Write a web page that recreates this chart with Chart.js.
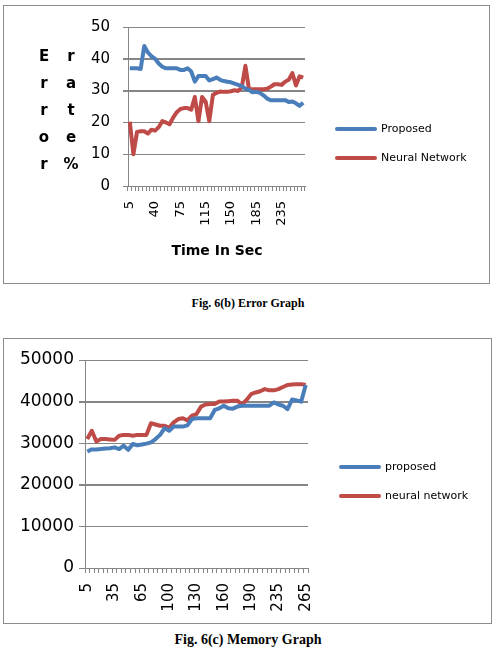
<!DOCTYPE html>
<html>
<head>
<meta charset="utf-8">
<script src="https://cdn.jsdelivr.net/npm/chart.js@4.4.0/dist/chart.umd.min.js"></script>
<style>
  body { margin: 0; background: #fff; width: 496px; height: 652px; position: relative; overflow: hidden; }
  .box { position: absolute; border: 1px solid #8c8c8c; box-sizing: border-box; }
  canvas { position: absolute; left: 0; }
  .cap { position: absolute; left: 0; width: 496px; text-align: center; font: bold 12px "Liberation Serif"; color: #000; }
</style>
</head>
<body>
<div class="box" style="left:3px; top:5px; width:487px; height:279px;"></div>
<canvas id="errChart" width="496" height="290" style="top:0"></canvas>
<div class="cap" style="top:296px;">Fig. 6(b) Error Graph</div>

<div class="box" style="left:3px; top:338px; width:489px; height:286px;"></div>
<canvas id="memChart" width="496" height="300" style="top:330px"></canvas>
<div class="cap" style="top:632px; font-size:14px;">Fig. 6(c) Memory Graph</div>

<script>
// ---- Fig. 6(b) error graph data
const errorTime = [5, 10, 15, 20, 25, 30, 35, 40, 45, 50, 55, 60, 65, 70, 75,
  80, 85, 90, 95, 100, 110, 115, 120, 125, 130, 135, 140, 145, 150,
  155, 160, 165, 170, 175, 180, 185, 190, 200, 205, 215, 220, 230, 235,
  240, 245, 250, 255, 260, 265];
const errorTicks = ['5', '40', '75', '115', '150', '185', '235'];
const errorYTicks = [0, 10, 20, 30, 40, 50];
const errorProposed = [37, 37, 37, 36.8, 44, 42, 40.8, 40, 38.5, 37.5,
  37, 37, 37, 37, 36.5, 36.5, 37, 36, 32.8, 34.6,
  34.6, 34.6, 33.2, 33.6, 34.1, 33.4, 33, 32.8, 32.6, 32.2,
  31.8, 31.4, 30.6, 30.2, 29.5, 29.6, 29.3, 28.5, 27.5, 27,
  27, 27, 27, 27, 26.4, 26.6, 26, 25.2, 26.2];
const errorNeural = [20.2, 10, 17, 17.2, 17.2, 16.5, 17.7, 17.4, 18.5, 20.4,
  20, 19.4, 21.5, 23.2, 24.2, 24.5, 24.5, 24, 28, 20.4,
  28, 26.5, 20.4, 28.6, 29.3, 29.7, 29.6, 29.6, 29.8, 30.1,
  29.9, 31, 37.8, 30.4, 30.4, 30.4, 30.4, 30.4, 30.6, 31.2,
  32, 32, 31.8, 32.8, 33.4, 35.5, 31.6, 34.5, 34.1];

// ---- Fig. 6(c) memory graph data
const memTime = [5, 10, 15, 20, 25, 30, 35, 40, 45, 50, 55, 60, 65,
  70, 75, 80, 85, 90, 100, 105, 110, 115, 120, 125, 130,
  135, 140, 145, 150, 155, 160, 165, 170, 175, 180, 185, 190,
  195, 205, 210, 220, 225, 235, 240, 245, 250, 255, 260, 265];
const memTicks = ['5', '35', '65', '100', '130', '160', '190', '235', '265'];
const memYTicks = [0, 10000, 20000, 30000, 40000, 50000];
const memProposed = [28000, 28500, 28500, 28600, 28700, 28800, 29000, 28600, 29400, 28400,
  29800, 29500, 29700, 29900, 30200, 31000, 32000, 33600, 33000, 34000,
  34000, 34000, 34300, 35800, 36000, 36000, 36000, 36000, 38000, 38400,
  39000, 38400, 38300, 38800, 39000, 39000, 39000, 39000, 39000, 39000,
  39000, 39800, 39300, 39000, 38200, 40500, 40300, 40000, 44000];
const memNeural = [31000, 33000, 30400, 31000, 31000, 30900, 30800, 31800, 32000, 32000,
  31800, 32000, 32000, 32000, 34800, 34500, 34200, 34200, 33700, 35000,
  35800, 36000, 35500, 36600, 37000, 38800, 39300, 39400, 39400, 40000,
  40000, 40100, 40200, 40200, 39300, 40400, 41800, 42200, 42500, 43000,
  42700, 42700, 43000, 43500, 44000, 44100, 44200, 44200, 44000];

const BLUE = '#4a7ebb';
const RED = '#be4b48';
const GRID = '#868686';
const FONT = '"DejaVu Sans"';

// horizontal grid lines from the y scale ticks
function strokeGrid(chart, tickLen, mode) {
  const ctx = chart.ctx, a = chart.chartArea, ys = chart.scales.y;
  ctx.save();
  ctx.globalCompositeOperation = mode;
  ctx.globalAlpha = 1;
  ctx.setLineDash([]);
  ctx.strokeStyle = GRID;
  ctx.lineWidth = 1;
  ys.ticks.forEach(t => {
    const py = Math.round(ys.getPixelForValue(t.value)) + 0.5;
    ctx.beginPath();
    ctx.moveTo(a.left - tickLen, py);
    ctx.lineTo(a.right, py);
    ctx.stroke();
  });
  ctx.restore();
}

// one plugin per chart: grid, legend, free text
function makeExtras(cfg) {
  return {
    id: 'extras',
    afterDraw(chart) {
      const ctx = chart.ctx, a = chart.chartArea, ys = chart.scales.y;
      strokeGrid(chart, cfg.yTickLen, 'destination-over');
      // if the grid did not show up (pixel still empty), stroke it again on top
      const probeY = Math.round(ys.getPixelForValue(ys.ticks[1].value));
      const probe = ctx.getImageData(Math.round(a.right) - 3, probeY, 1, 1).data;
      if (probe[3] < 100) strokeGrid(chart, cfg.yTickLen, 'source-over');

      ctx.save();
      chart.data.datasets.forEach((ds, i) => {
        const y = cfg.legendY[i];
        ctx.strokeStyle = ds.borderColor;
        ctx.lineWidth = 4;
        ctx.lineCap = 'round';
        ctx.beginPath();
        ctx.moveTo(cfg.legendX + 2, y);
        ctx.lineTo(cfg.legendX + 40, y);
        ctx.stroke();
        ctx.fillStyle = '#000';
        ctx.font = '11px ' + FONT;
        ctx.textAlign = 'left';
        ctx.textBaseline = 'middle';
        ctx.fillText(ds.label, cfg.legendX + 46, y);
      });
      cfg.texts.forEach(t => {
        ctx.fillStyle = '#000';
        ctx.font = t.font;
        ctx.textAlign = 'center';
        ctx.textBaseline = 'alphabetic';
        ctx.fillText(t.text, t.x, t.y);
      });
      ctx.restore();
    }
  };
}

function makeChart(id, cfg) {
  const yt = cfg.yTicks;
  new Chart(document.getElementById(id), {
    type: 'line',
    data: {
      labels: cfg.labels,
      datasets: [
        { label: cfg.names[0], data: cfg.series[0], borderColor: BLUE },
        { label: cfg.names[1], data: cfg.series[1], borderColor: RED }
      ]
    },
    options: {
      responsive: false,
      animation: false,
      devicePixelRatio: 1,
      layout: { padding: cfg.padding },
      elements: {
        line: { borderWidth: 4, tension: 0, borderJoinStyle: 'round' },
        point: { radius: 0 }
      },
      plugins: {
        legend: { display: false },
        tooltip: { enabled: false }
      },
      scales: {
        x: {
          offset: true,
          afterFit: s => { s.height = 50; },
          grid: { offset: true, drawOnChartArea: false, color: GRID, tickLength: 5 },
          border: { color: GRID },
          ticks: {
            autoSkip: false, maxRotation: 90, minRotation: 90, padding: 10,
            color: '#000', font: { family: FONT, size: cfg.xFont },
            callback: (v, i) => cfg.tickLabels.includes(String(cfg.labels[i])) ? cfg.labels[i] : ''
          }
        },
        y: {
          min: yt[0], max: yt[yt.length - 1],
          afterFit: s => { s.width = cfg.yWidth; },
          grid: { color: GRID, tickLength: cfg.yTickLen },
          border: { color: GRID },
          ticks: {
            stepSize: yt[1] - yt[0], padding: cfg.yPad,
            color: '#000', font: { family: FONT, size: cfg.yFont },
            callback: v => String(v)
          }
        }
      }
    },
    plugins: [makeExtras(cfg)]
  });
}

// y title "Error rate %" is stacked letter by letter in two columns
const yTitle = 'Error rate %'.split(' ');
const yTitleTexts = [];
[yTitle[0], yTitle.slice(1).join('')].forEach((word, c) => {
  word.split('').forEach((ch, r) => {
    yTitleTexts.push({ text: ch, x: 44 + c * 27, y: 61 + r * 27, font: 'bold 15px ' + FONT });
  });
});

makeChart('errChart', {
  labels: errorTime,
  tickLabels: errorTicks,
  yTicks: errorYTicks,
  series: [errorProposed, errorNeural],
  names: ['Proposed', 'Neural Network'],
  padding: { left: 88, right: 191, top: 27, bottom: 54 },
  yWidth: 40, yTickLen: 5, yPad: 13, yFont: 15, xFont: 13,
  legendX: 335, legendY: [129, 158],
  texts: yTitleTexts.concat([{ text: 'Time In Sec', x: 217, y: 255, font: 'bold 14px ' + FONT }])
});

makeChart('memChart', {
  labels: memTime,
  tickLabels: memTicks,
  yTicks: memYTicks,
  series: [memProposed, memNeural],
  names: ['proposed', 'neural network'],
  padding: { left: 5, right: 188, top: 30, bottom: 12 },
  yWidth: 80, yTickLen: 6, yPad: 5, yFont: 17, xFont: 15,
  legendX: 339, legendY: [137, 166],
  texts: []
});
</script>
</body>
</html>
